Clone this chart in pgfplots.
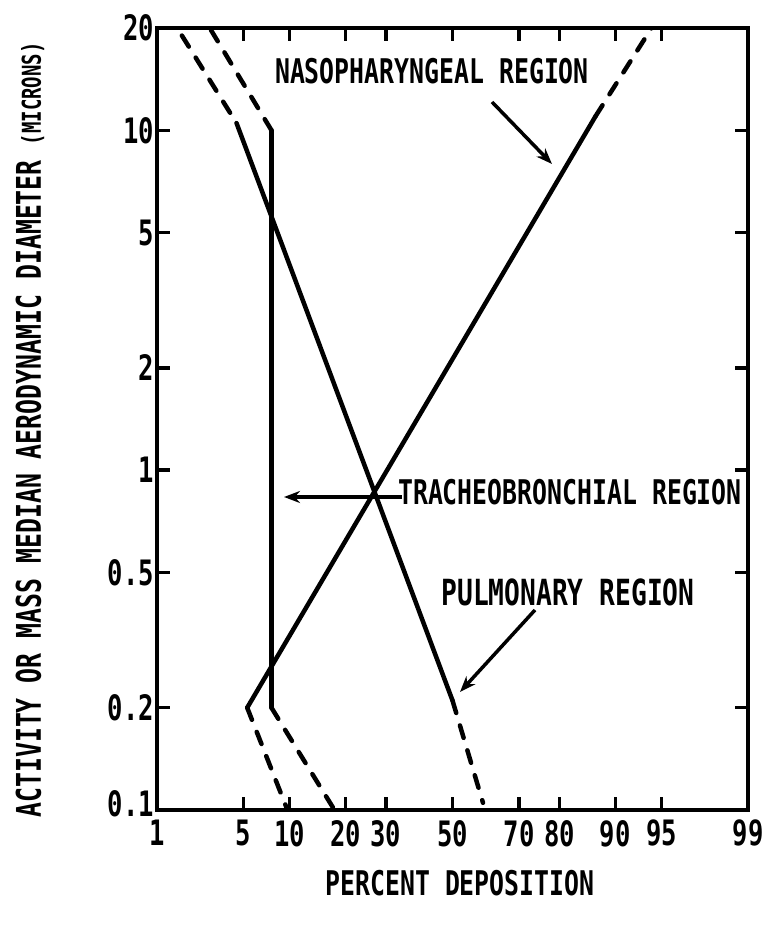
\documentclass[border=0pt]{standalone}
\usepackage{fontspec}
\setmainfont{DejaVu Sans Mono}[FakeStretch=0.73]
\usepackage{pgfplots}
\pgfplotsset{compat=1.18}
\usetikzlibrary{arrows.meta}
\begin{document}
\begin{tikzpicture}[font=\bfseries]
\path[use as bounding box] (0pt,0pt) rectangle (767pt,934pt);
\begin{axis}[
  at={(157pt,124pt)}, anchor=south west,
  scale only axis, width=591pt, height=782pt,
  xmin=-2.326, xmax=2.326,
  ymode=log, ymin=0.1, ymax=20,
  axis line style={line width=4.5pt},
  tick align=inside, major tick length=13pt,
  every tick/.style={black, line width=3.5pt},
  yminorticks=false, xminorticks=false,
  % x positions are normal-probability (z) values of the percentages
  xtick={-2.326,-1.645,-1.282,-0.842,-0.524,0,0.524,0.842,1.282,1.645,2.326},
  xticklabels={1,5,10,20,30,50,70,80,90,95,99},
  ytick={0.1,0.2,0.5,1,2,5,10,20},
  yticklabels={\raisebox{12pt}{0.1},0.2,0.5,1,2,5,10,20},
  xticklabel style={font=\fontsize{35}{35}\selectfont\bfseries, inner ysep=10pt},
  yticklabel style={font=\fontsize{35}{35}\selectfont\bfseries, inner xsep=3pt},
  clip=true,
  sol/.style={black, line width=4.5pt, line cap=round, line join=round, mark=none},
  das/.style={sol, dash pattern=on 13pt off 13pt},
]
% Nasopharyngeal region
\addplot[sol] coordinates {(-1.616,0.2) (1.126,11)};
\addplot[das] coordinates {(1.126,11) (1.567,20)};
\addplot[das] coordinates {(-1.616,0.2) (-1.299,0.1)};
% Tracheobronchial region
\addplot[sol] coordinates {(-1.425,10) (-1.425,0.2)};
\addplot[das] coordinates {(-1.425,10) (-1.911,20)};
\addplot[das] coordinates {(-1.425,0.2) (-0.929,0.1)};
% Pulmonary region
\addplot[das] coordinates {(-2.13,19) (-1.70,10.5)};
\addplot[sol] coordinates {(-1.70,10.5) (0,0.21)};
\addplot[das] coordinates {(0,0.21) (0.24,0.105)};
\end{axis}
% annotations (picture coordinates)
\node[font=\fontsize{34}{34}\selectfont\bfseries] at (432pt,863pt) {NASOPHARYNGEAL REGION};
\draw[line width=3.5pt,-{Stealth[length=16pt,width=12pt]}] (492pt,832pt) -- (552pt,770pt);
\node[font=\fontsize{34}{34}\selectfont\bfseries] at (570pt,442pt) {TRACHEOBRONCHIAL REGION};
\draw[line width=3.5pt,-{Stealth[length=16pt,width=12pt]}] (402pt,437pt) -- (284pt,437pt);
\node[font=\fontsize{36}{36}\selectfont\bfseries] at (568pt,342pt) {PULMONARY REGION};
\draw[line width=3.5pt,-{Stealth[length=16pt,width=12pt]}] (535pt,324pt) -- (460pt,242pt);
\node[rotate=90, font=\fontsize{34}{34}\selectfont\bfseries] at (30pt,504pt) {ACTIVITY OR MASS MEDIAN AERODYNAMIC DIAMETER {\fontsize{26}{26}\selectfont(MICRONS)}};
\node[font=\fontsize{34}{34}\selectfont\bfseries] at (460pt,51pt) {PERCENT DEPOSITION};
\end{tikzpicture}
\end{document}
